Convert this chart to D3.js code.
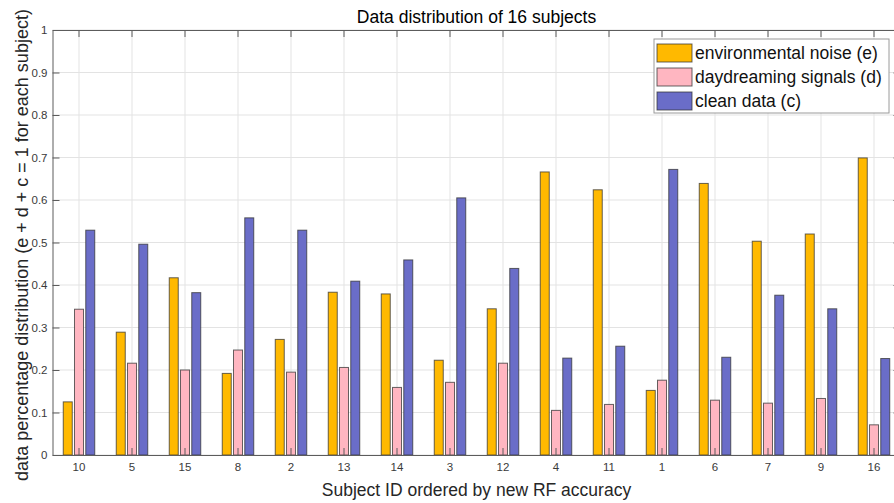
<!DOCTYPE html>
<html>
<head>
<meta charset="utf-8">
<script src="https://cdn.jsdelivr.net/npm/d3@7"></script>
<style>
  body { margin: 0; background: #fff; }
  svg { display: block; font-family: "Liberation Sans", Arial, sans-serif; }
</style>
</head>
<body>
<svg id="chart" width="894" height="503"></svg>
<script>
// subjects in the order shown on the x axis
const subjects = ["10", "5", "15", "8", "2", "13", "14", "3", "12", "4", "11", "1", "6", "7", "9", "16"];
const noise    = [0.125, 0.289, 0.417, 0.192, 0.272, 0.383, 0.379, 0.223, 0.344, 0.666, 0.624, 0.152, 0.639, 0.503, 0.520, 0.699];
const daydream = [0.343, 0.216, 0.200, 0.247, 0.195, 0.206, 0.159, 0.171, 0.216, 0.105, 0.119, 0.176, 0.129, 0.122, 0.133, 0.071];
const clean    = [0.529, 0.496, 0.382, 0.558, 0.529, 0.409, 0.459, 0.605, 0.439, 0.228, 0.256, 0.672, 0.230, 0.376, 0.344, 0.227];
const seriesNames = ["environmental noise (e)", "daydreaming signals (d)", "clean data (c)"];
const colors = ["#ffb900", "#ffb6c1", "#6a6dc8"];
const yTicks = [0, 0.1, 0.2, 0.3, 0.4, 0.5, 0.6, 0.7, 0.8, 0.9, 1];

const ctx = { left: 52.5, right: 900.5, top: 30, bottom: 455 };
const svg = d3.select("#chart");

let x = d3.scaleBand().domain(subjects).range([ctx.left, ctx.right]).paddingInner(0).paddingOuter(0);
let inner = d3.scaleBand().domain([0, 1, 2]).range([-18, 18]).padding(0.2);
let y = d3.scaleLinear().domain([0, 1]).range([ctx.bottom, ctx.top]);
let cx = s => x(s) + x.bandwidth() / 2;

// grid
let grid = svg.append("g");
grid.selectAll("line.v").data(subjects).enter().append("line")
  .attr("x1", cx).attr("x2", cx).attr("y1", ctx.top).attr("y2", ctx.bottom)
  .attr("stroke", "#e3e3e3").attr("stroke-width", 1);
grid.selectAll("line.h").data(yTicks).enter().append("line")
  .attr("x1", ctx.left).attr("x2", ctx.right).attr("y1", d => y(d)).attr("y2", d => y(d))
  .attr("stroke", "#e3e3e3").attr("stroke-width", 1);

// bars
let rows = subjects.map((s, i) => ({ subject: s, values: [noise[i], daydream[i], clean[i]] }));
let groups = svg.append("g").selectAll("g").data(rows).enter().append("g")
  .attr("transform", d => `translate(${cx(d.subject)},0)`);
groups.selectAll("rect").data(d => d.values.map((v, k) => ({ v: v, k: k }))).enter().append("rect")
  .attr("x", d => inner(d.k))
  .attr("width", inner.bandwidth())
  .attr("y", d => y(d.v))
  .attr("height", d => y(0) - y(d.v))
  .attr("fill", d => colors[d.k])
  .attr("stroke", "#333")
  .attr("stroke-opacity", 0.75)
  .attr("stroke-width", 1);

// axes (box with inward ticks)
let axisColor = "#5c5c5c";
let xAxis = svg.append("g").attr("transform", `translate(0,${ctx.bottom})`)
  .call(d3.axisBottom(x).tickSizeInner(-7).tickSizeOuter(0).tickPadding(8));
let xTop = svg.append("g").attr("transform", `translate(0,${ctx.top})`)
  .call(d3.axisTop(x).tickSizeInner(-7).tickSizeOuter(0).tickFormat(""));
let yAxis = svg.append("g").attr("transform", `translate(${ctx.left},0)`)
  .call(d3.axisLeft(y).tickValues(yTicks).tickFormat(d3.format("")).tickSizeInner(-7).tickSizeOuter(0).tickPadding(5));
let yRight = svg.append("g").attr("transform", `translate(${ctx.right},0)`)
  .call(d3.axisRight(y).tickValues(yTicks).tickFormat("").tickSizeInner(-7).tickSizeOuter(0));
[xAxis, xTop, yAxis, yRight].forEach(a => {
  a.select(".domain").attr("stroke", axisColor);
  a.selectAll(".tick line").attr("stroke", axisColor);
  a.selectAll(".tick text").attr("fill", "#3a3a3a").style("font-size", "11.5px")
    .style("font-family", "'Liberation Sans', Arial, sans-serif");
});

// titles
svg.append("text").attr("x", (ctx.left + ctx.right) / 2).attr("y", 23)
  .attr("text-anchor", "middle").style("font-size", "17.5px").attr("fill", "#000")
  .text("Data distribution of 16 subjects");
svg.append("text").attr("x", (ctx.left + ctx.right) / 2).attr("y", 496)
  .attr("text-anchor", "middle").style("font-size", "17.5px").attr("fill", "#262626")
  .text("Subject ID ordered by new RF accuracy");
svg.append("text").attr("transform", "translate(28,245) rotate(-90)")
  .attr("text-anchor", "middle").style("font-size", "18px").attr("fill", "#262626")
  .text("data percentage distribution (e + d + c = 1 for each subject)");

// legend
let legend = svg.append("g").attr("transform", "translate(654,39)");
legend.append("rect").attr("width", 235).attr("height", 74)
  .attr("fill", "#fff").attr("stroke", "#9a9a9a").attr("stroke-width", 1);
seriesNames.forEach((name, i) => {
  legend.append("rect").attr("x", 3).attr("y", 5 + i * 24).attr("width", 35).attr("height", 18)
    .attr("fill", colors[i]).attr("stroke", "#333").attr("stroke-opacity", 0.75);
  legend.append("text").attr("x", 41).attr("y", 14 + i * 24)
    .attr("dominant-baseline", "central").style("font-size", "17.5px").attr("fill", "#111")
    .text(name);
});
</script>
</body>
</html>
